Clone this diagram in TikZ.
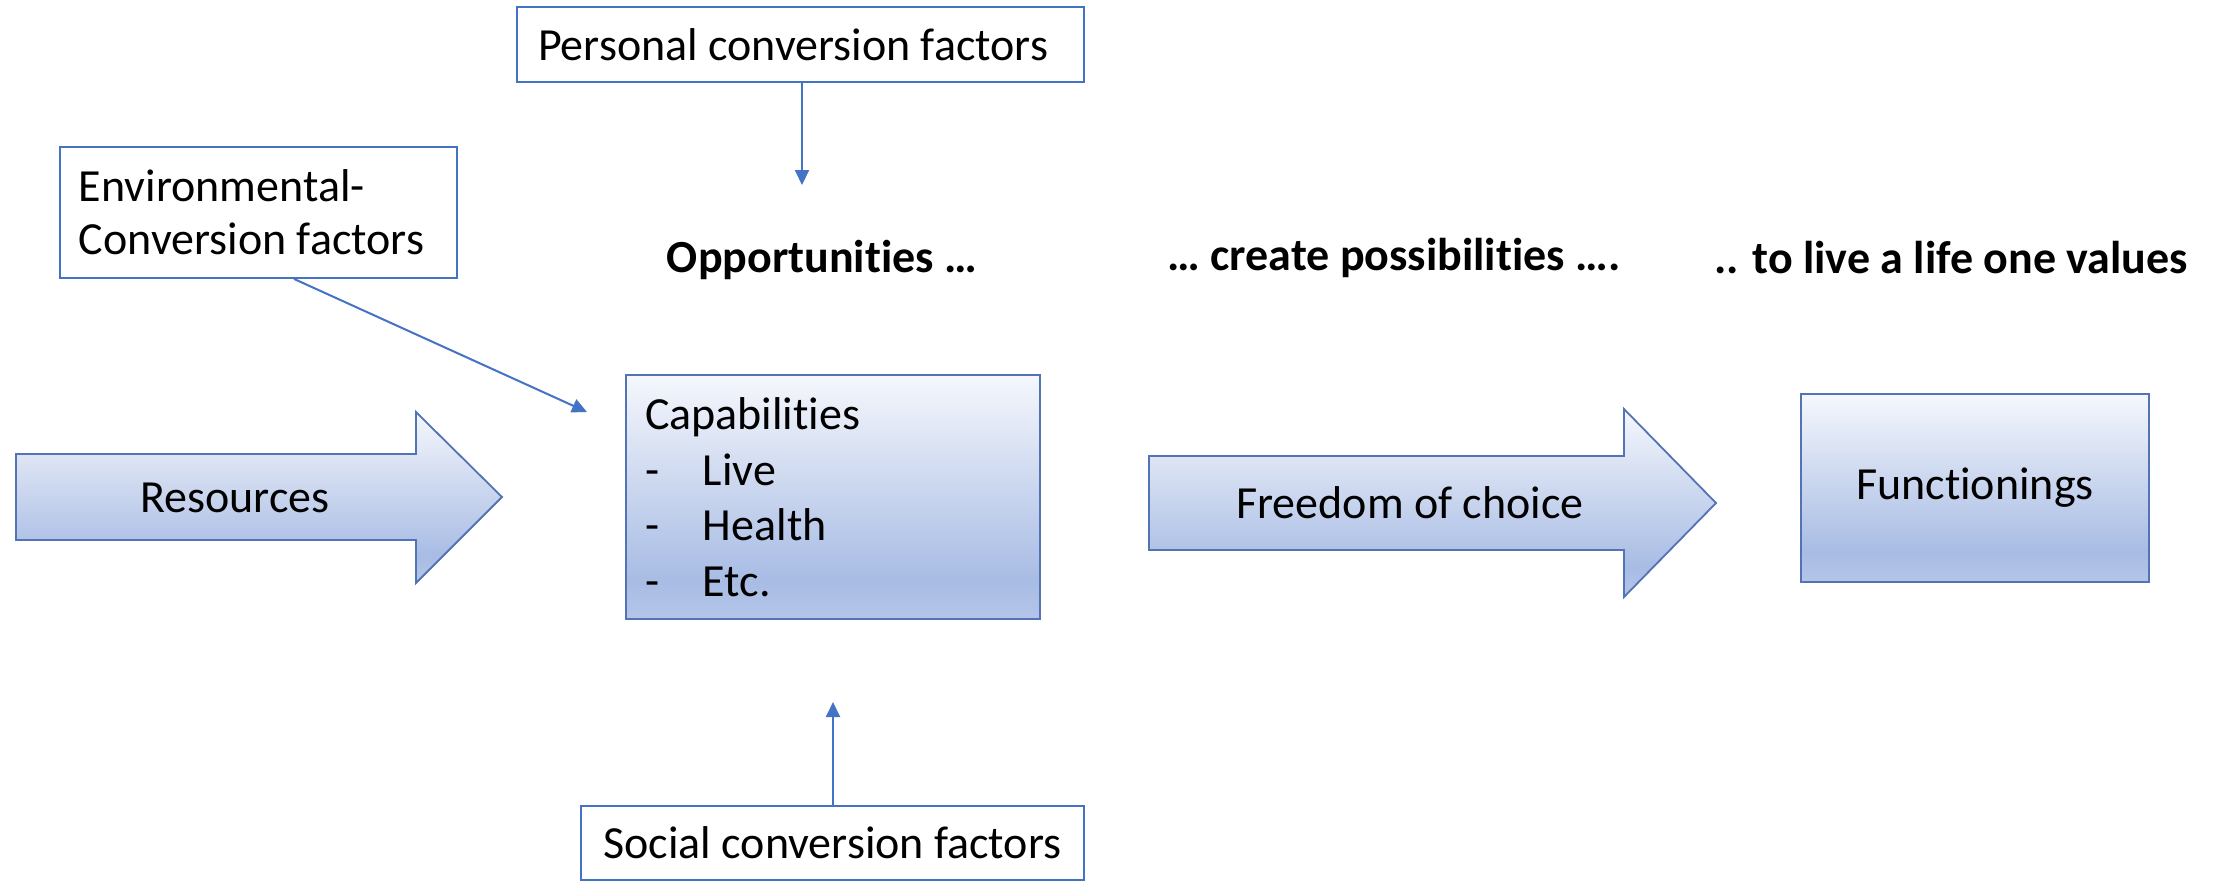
\documentclass[tikz,border=0pt]{standalone}
\usepackage{fontspec}
\setmainfont[Ligatures=NoCommon]{Carlito}
\usetikzlibrary{arrows.meta}
\definecolor{lnblue}{HTML}{4472C4}
\definecolor{bordr}{HTML}{5273B4}
\definecolor{gtop}{HTML}{F5F7FC}
\definecolor{gbot}{HTML}{A8BCE4}
\definecolor{gend}{HTML}{B4C5E8}
\pgfdeclareverticalshading{officeblue}{100bp}{color(0bp)=(gend); color(25bp)=(gend); color(33bp)=(gbot); color(75bp)=(gtop); color(100bp)=(gtop)}
\begin{document}
\begin{tikzpicture}[x=0.25pt,y=-0.25pt,
  plainbox/.style={draw=lnblue, line width=0.45pt, fill=white, inner sep=0pt, font=\fontsize{11.5}{13.25}\selectfont},
  gradshape/.style={draw=bordr, line width=0.45pt, shading=officeblue},
  gradbox/.style={gradshape, inner sep=0pt, font=\fontsize{11.5}{13.9}\selectfont},
  lbl/.style={font=\fontsize{11.5}{14}\selectfont, inner sep=0pt},
  headlbl/.style={font=\bfseries\fontsize{11.5}{14}\selectfont, inner sep=0pt},
  conn/.style={draw=lnblue, line width=0.5pt, -{Triangle[length=3.75pt,width=3.5pt]}}]
\fill[white] (0,0) rectangle (2218,881);
\useasboundingbox (0,0) rectangle (2218,881);

% boxes
\node[plainbox, minimum width=141.75pt, minimum height=18.75pt] (personal) at (800.5,44.5) {\makebox[131.25pt][l]{Personal conversion factors}};
\node[plainbox, minimum width=99.25pt, minimum height=32.75pt, align=left] (env) at (258.5,212.5) {\makebox[89.75pt][l]{Environmental-}\\\makebox[89.75pt][l]{Conversion factors}};
\node[plainbox, minimum width=125.75pt, minimum height=18.5pt] (social) at (832.5,843) {Social conversion factors};
\node[gradbox, minimum width=103.5pt, minimum height=61pt, align=left] (capab) at (833,497) {\makebox[94pt][l]{Capabilities}\\\makebox[14.5pt][l]{-}Live\\\makebox[14.5pt][l]{-}Health\\\makebox[14.5pt][l]{-}Etc.};
\node[gradbox, minimum width=87pt, minimum height=47pt] (funct) at (1975,488) {Functionings};

% big arrows
\path[gradshape] (16,454) -- (416,454) -- (416,412) -- (502,497) -- (416,583) -- (416,540) -- (16,540) -- cycle;
\node[lbl] (res) at (235,498) {Resources};
\path[gradshape] (1149,456) -- (1624,456) -- (1624,409) -- (1716,503) -- (1624,597) -- (1624,550) -- (1149,550) -- cycle;
\node[lbl] (free) at (1410,503) {Freedom of choice};

% headings
\node[headlbl] (opp) at (822,260) {Opportunities …};
\node[headlbl] (poss) at (1394,258) {… create possibilities ….};
\node[headlbl] (live) at (1951,258) {.. to live a life one values};

% connectors
\coordinate (ptip) at (802,185);
\coordinate (etip) at (587,412);
\coordinate (stip) at (833,702);
\draw[conn] (personal.south -| ptip) -- (ptip);
\draw[conn] ([xshift=8.875pt]env.south) -- (etip);
\draw[conn] (social.north -| stip) -- (stip);
\end{tikzpicture}
\end{document}
